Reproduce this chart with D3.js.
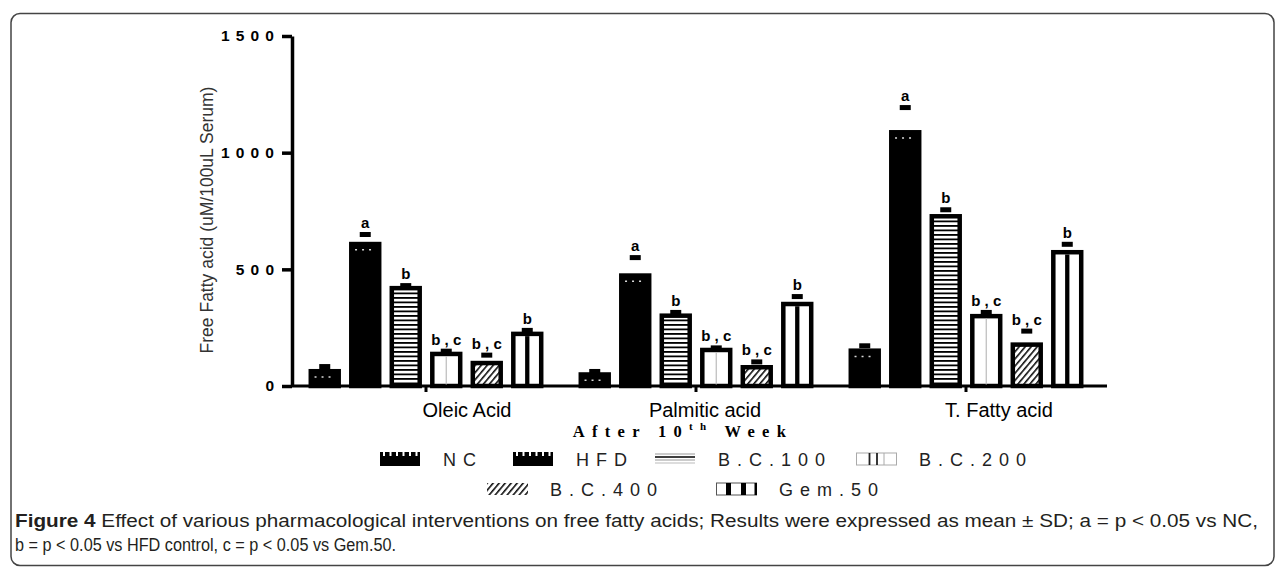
<!DOCTYPE html>
<html><head><meta charset="utf-8">
<script src="https://cdn.jsdelivr.net/npm/d3@7"></script>
<style>
html,body{margin:0;padding:0;background:#fff;}
svg{display:block;}
</style></head>
<body>
<svg id="chart" width="1282" height="567"></svg>
<script>
// ---------- DATA ----------
const categories = ["Oleic Acid", "Palmitic acid", "T. Fatty acid"];
const seriesNames = ["NC", "HFD", "B.C.100", "B.C.200", "B.C.400", "Gem.50"];
const meanNC    = [73, 59, 161];
const meanHFD   = [618, 483, 1097];
const meanBC100 = [429, 311, 737];
const meanBC200 = [147, 164, 309];
const meanBC400 = [108, 90, 187];
const meanGem50 = [233, 361, 583];
const sdNC    = [21, 14, 22];
const sdHFD   = [42, 78, 107];
const sdBC100 = [12, 15, 29];
const sdBC200 = [13, 10, 17];
const sdBC400 = [35, 24, 59];
const sdGem50 = [16, 33, 35];
const sigNC    = ["", "", ""];
const sigHFD   = ["a", "a", "a"];
const sigBC100 = ["b", "b", "b"];
const sigBC200 = ["b , c", "b , c", "b , c"];
const sigBC400 = ["b , c", "b , c", "b , c"];
const sigGem50 = ["b", "b", "b"];
const yTicks = [0, 500, 1000, 1500];
const yTitle = "Free Fatty acid (uM/100uL Serum)";
const xTitle = ["After 10", "th", " Week"];
const legendLabels = ["NC", "HFD", "B.C.100", "B.C.200", "B.C.400", "Gem.50"];
const captionBold = "Figure 4";
const captionLine1 = " Effect of various pharmacological interventions on free fatty acids; Results were expressed as mean \u00b1 SD; a = p < 0.05 vs NC,";
const captionLine2 = "b = p < 0.05 vs HFD control, c = p < 0.05 vs Gem.50.";

const means = [meanNC, meanHFD, meanBC100, meanBC200, meanBC400, meanGem50];
const sds = [sdNC, sdHFD, sdBC100, sdBC200, sdBC400, sdGem50];
const sigs = [sigNC, sigHFD, sigBC100, sigBC200, sigBC400, sigGem50];

// ---------- LAYOUT ----------
const svg = d3.select("#chart");
const baseY = 386, topY = 36, leftX = 292;
const y = d3.scaleLinear().domain([0, 1500]).range([baseY, topY]);
const x0 = d3.scaleBand().domain(categories).range([291, 1101]).paddingInner(0).paddingOuter(0);
const x1 = d3.scaleBand().domain(seriesNames).range([0, x0.bandwidth()]).paddingInner(0.2).paddingOuter(0.433);
const labelShift = [41, 9, 33];
const sw = 4.5;

// border
svg.append("rect").attr("x", 11).attr("y", 13.5).attr("width", 1263).attr("height", 552)
  .attr("rx", 9).attr("fill", "none").attr("stroke", "#444").attr("stroke-width", 1.5);

// patterns
const defs = svg.append("defs");
const ph = defs.append("pattern").attr("id", "hstripe").attr("patternUnits", "userSpaceOnUse")
  .attr("width", 8).attr("height", 4.5);
ph.append("rect").attr("width", 8).attr("height", 4.5).attr("fill", "#fff");
ph.append("rect").attr("width", 8).attr("height", 1.8).attr("fill", "#000");
const pd = defs.append("pattern").attr("id", "diag").attr("patternUnits", "userSpaceOnUse")
  .attr("width", 4.6).attr("height", 10).attr("patternTransform", "rotate(40)");
pd.append("rect").attr("width", 4.6).attr("height", 10).attr("fill", "#fff");
pd.append("rect").attr("width", 1.6).attr("height", 10).attr("fill", "#111");

// bars
const fills = ["#000", "#000", "url(#hstripe)", "#fff", "url(#diag)", "#fff"];
const g = svg.append("g");
categories.forEach((cat, ci) => {
  seriesNames.forEach((s, si) => {
    const v = means[si][ci];
    const bx = x0(cat) + x1(s);
    const bw = x1.bandwidth();
    const yt = y(v);
    g.append("rect")
      .attr("x", bx + sw / 2).attr("y", yt + sw / 2)
      .attr("width", bw - sw).attr("height", baseY - yt - sw / 2)
      .attr("fill", fills[si]).attr("stroke", "#000").attr("stroke-width", sw);
    const cx = bx + bw / 2;
    if (si <= 1) {
      g.append("line").attr("x1", bx + 6).attr("x2", bx + bw - 6)
        .attr("y1", yt + 8).attr("y2", yt + 8)
        .attr("stroke", "#fff").attr("stroke-width", 1.6).attr("stroke-dasharray", "2,5").attr("opacity", 0.85);
    }
    if (si === 3) {
      g.append("line").attr("x1", cx).attr("x2", cx).attr("y1", yt + sw).attr("y2", baseY)
        .attr("stroke", "#bbb").attr("stroke-width", 1.2);
    }
    if (si === 5) {
      g.append("line").attr("x1", cx).attr("x2", cx).attr("y1", yt + sw).attr("y2", baseY)
        .attr("stroke", "#000").attr("stroke-width", 4.3);
    }
    // error cap
    const ey = y(v + sds[si][ci]);
    g.append("rect").attr("x", cx - 5.5).attr("y", ey).attr("width", 11).attr("height", 5).attr("fill", "#000");
    // significance label
    if (sigs[si][ci]) {
      g.append("text").attr("x", cx).attr("y", ey - 4)
        .attr("text-anchor", "middle").attr("font-family", "Liberation Sans, Arial, sans-serif")
        .attr("font-weight", "bold").attr("font-size", 15).attr("fill", "#000")
        .text(sigs[si][ci]);
    }
  });
});

// y axis
const yAxis = svg.append("g").attr("transform", `translate(${leftX},0)`)
  .call(d3.axisLeft(y).tickValues(yTicks).tickSize(10).tickPadding(8).tickSizeOuter(0).tickFormat(d3.format("d")));
yAxis.select(".domain").attr("stroke-width", 3.5).attr("stroke", "#000");
yAxis.selectAll(".tick line").attr("stroke-width", 3.5).attr("stroke", "#000");
yAxis.selectAll(".tick text").attr("font-family", "Liberation Sans, Arial, sans-serif")
  .attr("font-weight", "bold").attr("font-size", 15.5).attr("letter-spacing", 6.2).attr("dx", 6.2).attr("fill", "#000");

// x axis
const xAxis = svg.append("g").attr("transform", `translate(0,${baseY})`)
  .call(d3.axisBottom(x0).tickSize(6).tickSizeOuter(0));
xAxis.select(".domain").attr("stroke-width", 3).attr("stroke", "#000")
  .attr("d", `M${leftX},0H1107`);
xAxis.selectAll(".tick line").attr("stroke-width", 3).attr("stroke", "#000");
xAxis.selectAll(".tick text").attr("font-family", "Liberation Sans, Arial, sans-serif")
  .attr("font-size", 20).attr("fill", "#000").attr("y", 31).attr("dy", 0)
  .attr("dx", (d, i) => labelShift[i]);

// y title
svg.append("text").attr("transform", "rotate(-90)").attr("x", -220).attr("y", 213)
  .attr("text-anchor", "middle").attr("font-family", "Liberation Sans, Arial, sans-serif")
  .attr("font-size", 17.5).attr("fill", "#333").text(yTitle);

// x title
const xt = svg.append("text").attr("x", 683).attr("y", 437).attr("text-anchor", "middle")
  .attr("font-family", "Liberation Serif, Times New Roman, serif").attr("font-weight", "bold")
  .attr("font-size", 16.5).attr("letter-spacing", 7.3).attr("fill", "#000");
xt.append("tspan").text(xTitle[0]);
xt.append("tspan").attr("font-size", 11).attr("dy", -7).text(xTitle[1]);
xt.append("tspan").attr("dy", 7).text(xTitle[2]);

// legend
const legPos = [[380, 452], [513, 452], [655, 452], [856, 452], [487, 482], [716, 482]];
const lg = svg.append("g");
legendLabels.forEach((lab, i) => {
  const [lx, ly] = legPos[i];
  const sg = lg.append("g").attr("transform", `translate(${lx},${ly})`);
  if (i <= 1) {
    sg.append("rect").attr("width", 40).attr("height", 14).attr("fill", "#000");
    d3.range(6).forEach(k => sg.append("rect").attr("x", 3 + k * 6.5).attr("y", 0).attr("width", 2).attr("height", 4).attr("fill", "#fff"));
  } else if (i === 2) {
    [[2, "#999", 1], [5, "#000", 1.6], [8, "#999", 1], [11, "#bbb", 1]].forEach(([yy, c, w]) =>
      sg.append("line").attr("x1", 0).attr("x2", 40).attr("y1", yy).attr("y2", yy).attr("stroke", c).attr("stroke-width", w));
  } else if (i === 3) {
    sg.append("rect").attr("x", 0.5).attr("y", 1).attr("width", 40).attr("height", 12).attr("fill", "#fff").attr("stroke", "#aaa");
    [13.5, 21].forEach(xx => sg.append("line").attr("x1", xx).attr("x2", xx).attr("y1", 1).attr("y2", 13).attr("stroke", "#222").attr("stroke-width", 1.8));
    [28].forEach(xx => sg.append("line").attr("x1", xx).attr("x2", xx).attr("y1", 1).attr("y2", 13).attr("stroke", "#aaa").attr("stroke-width", 1));
  } else if (i === 4) {
    sg.append("rect").attr("x", 0).attr("y", 1).attr("width", 41).attr("height", 12).attr("fill", "url(#diag)");
  } else {
    sg.append("rect").attr("x", 0.5).attr("y", 1).attr("width", 40).attr("height", 12).attr("fill", "#fff").attr("stroke", "#555");
    [[10, 5], [25, 5], [38.5, 2.5]].forEach(([xx, w]) => sg.append("rect").attr("x", xx).attr("y", 1).attr("width", w).attr("height", 12).attr("fill", "#000"));
  }
  sg.append("text").attr("x", 63).attr("y", 14).attr("font-family", "Liberation Sans, Arial, sans-serif")
    .attr("font-size", 18).attr("letter-spacing", 7).attr("fill", "#222").text(lab);
});

// caption
const cap1 = svg.append("text").attr("x", 15).attr("y", 527)
  .attr("font-family", "Liberation Sans Narrow, Arial Narrow, Liberation Sans, sans-serif")
  .attr("font-size", 17.5).attr("fill", "#231f20").attr("textLength", 1243).attr("lengthAdjust", "spacingAndGlyphs");
cap1.append("tspan").attr("font-weight", "bold").text(captionBold);
cap1.append("tspan").text(captionLine1);
svg.append("text").attr("x", 15).attr("y", 551)
  .attr("font-family", "Liberation Sans Narrow, Arial Narrow, Liberation Sans, sans-serif")
  .attr("font-size", 17.5).attr("fill", "#231f20").attr("textLength", 381).attr("lengthAdjust", "spacingAndGlyphs")
  .text(captionLine2);
</script>
</body></html>
